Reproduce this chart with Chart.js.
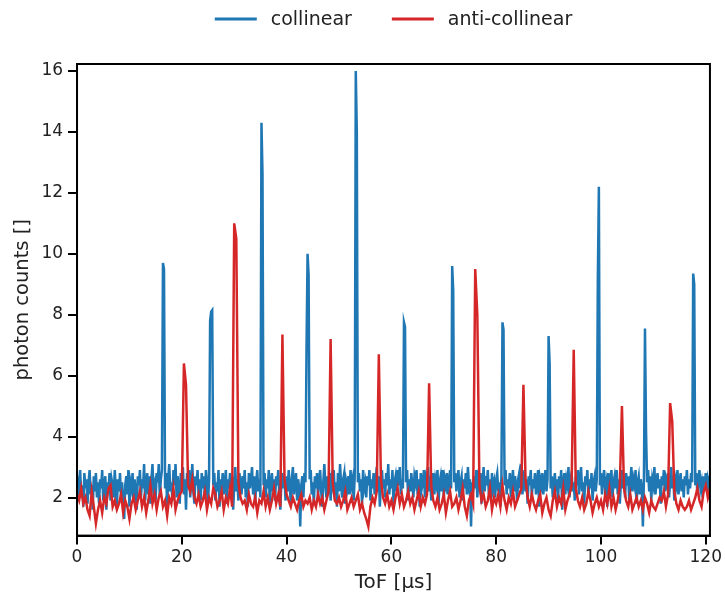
<!DOCTYPE html>
<html>
<head>
<meta charset="utf-8">
<script src="https://cdn.jsdelivr.net/npm/chart.js@4.4.1/dist/chart.umd.min.js"></script>
<style>
html,body{margin:0;padding:0;background:#fff;}
#wrap{width:725px;height:597px;}
</style>
</head>
<body>
<div id="wrap"><canvas id="c" width="725" height="597"></canvas></div>
<script>
// sampling steps of the ToF grids (µs)
const collinearStep = 0.2;
const antiStep = 0.4;
const xTicks = [0, 20, 40, 60, 80, 100, 120];
const yTicks = [2, 4, 6, 8, 10, 12, 14, 16];
const seriesNames = ['collinear', 'anti-collinear'];

const collinear = [
2.7,1.9,2.5,2.9,2.0,2.4,1.7,2.8,2.3,2.6,1.8,2.5,2.9,2.1,2.4,1.6,2.7,2.2,2.8,2.0,
2.5,1.8,2.6,2.3,2.9,1.9,2.4,2.7,1.6,2.5,2.2,2.8,1.9,2.6,2.4,2.0,2.9,2.3,1.7,2.6,
2.2,2.8,2.0,2.5,1.8,1.3,2.4,2.7,2.1,2.9,1.7,2.5,2.3,2.8,1.9,2.6,2.2,1.6,2.7,2.4,
2.9,2.0,2.6,2.3,3.1,1.9,2.5,2.8,2.1,2.7,1.8,2.6,3.1,2.2,2.4,1.9,2.8,2.5,3.1,2.0,
2.6,2.9,9.7,9.5,2.3,2.8,1.7,2.6,3.1,2.2,2.5,1.9,2.9,2.4,3.1,2.0,2.7,2.3,1.8,2.8,
2.4,3.0,2.1,2.6,1.6,2.8,2.3,2.9,2.0,2.5,3.1,2.2,1.8,2.7,2.4,2.9,2.1,2.6,1.9,2.8,
2.3,2.7,2.0,2.9,2.5,1.8,2.6,7.8,8.1,8.15,2.4,2.8,1.9,2.5,2.2,2.9,1.7,2.6,2.3,2.8,
2.1,2.5,2.9,1.8,2.6,2.3,2.8,2.0,2.7,1.6,2.4,3.0,2.2,2.6,1.9,2.8,2.4,2.1,2.7,2.3,
2.9,2.0,2.5,1.7,2.8,2.3,2.6,3.0,2.1,2.7,1.8,2.5,2.9,2.2,2.6,2.0,14.3,12.6,2.4,2.8,
2.0,2.6,2.3,2.9,1.7,2.5,2.8,2.2,2.6,1.9,2.7,2.4,2.9,2.1,1.6,2.5,2.8,2.3,2.6,1.9,
2.7,2.2,2.9,2.4,1.8,2.6,3.0,2.1,2.5,2.8,1.9,2.6,2.3,1.05,2.4,2.7,2.0,2.8,2.5,6.9,
10.0,9.3,2.6,2.9,2.1,2.5,1.8,2.7,2.3,2.8,2.0,2.6,2.9,2.2,1.7,2.5,3.1,2.4,2.0,2.7,
2.3,2.8,1.9,2.6,2.4,2.9,2.1,2.5,1.7,2.8,2.2,3.1,2.4,2.0,2.6,2.8,1.8,2.5,2.3,2.7,
2.1,2.9,2.4,2.6,1.9,2.7,16.0,14.0,2.5,2.8,2.2,2.6,1.8,2.9,2.3,2.5,2.0,2.7,2.4,2.9,
1.9,2.6,2.3,2.8,2.1,2.5,3.0,2.2,2.7,1.7,2.5,2.9,2.3,2.6,2.0,2.8,2.4,3.1,2.1,2.6,
2.3,2.9,1.8,2.5,2.7,2.2,2.9,2.4,3.0,2.1,2.6,2.3,7.75,7.6,2.5,2.9,1.9,2.6,2.2,2.8,
2.4,2.0,2.7,2.5,2.9,2.1,2.6,1.7,2.8,2.3,2.5,2.9,2.0,2.6,2.4,3.0,2.2,2.7,1.9,2.5,
2.8,2.1,2.6,2.4,2.9,1.8,2.5,2.7,2.2,2.9,2.0,2.6,2.4,2.8,2.1,2.5,2.9,2.3,9.6,8.8,
2.5,2.8,2.2,2.6,2.9,2.0,2.5,2.7,1.9,2.6,2.3,2.8,2.1,3.0,2.4,2.6,1.05,2.5,2.2,2.7,
2.3,2.9,2.0,2.6,2.4,2.8,1.8,2.5,3.0,2.2,2.7,2.4,2.9,2.1,2.6,1.9,2.8,2.3,2.5,2.0,
2.6,2.8,2.2,2.5,1.7,2.7,7.75,7.5,2.4,2.9,2.1,2.6,2.3,2.8,2.0,2.5,2.9,2.2,2.7,2.4,
1.9,2.6,2.8,2.3,3.1,2.1,2.5,2.9,2.2,2.6,1.8,2.7,2.4,2.9,2.0,2.6,2.3,2.8,2.1,2.5,
2.9,1.7,2.6,2.4,2.8,2.1,2.5,2.9,2.2,2.6,7.3,6.4,2.3,2.7,2.0,2.5,2.8,2.2,2.6,1.9,
2.7,2.3,2.9,1.6,2.5,2.8,2.1,2.6,2.4,3.0,2.0,2.6,2.8,2.2,2.5,1.9,2.7,2.4,2.9,2.1,
2.6,3.0,2.2,2.5,1.8,2.7,2.4,2.9,2.0,2.6,2.3,2.8,1.9,2.5,2.7,2.2,2.6,9.2,12.2,2.4,
2.8,2.1,2.6,2.9,2.3,2.5,1.7,2.8,2.2,2.6,2.9,2.0,2.5,2.7,2.3,2.9,2.1,2.6,1.8,2.5,
2.9,2.3,2.6,2.0,2.8,2.4,2.7,1.9,2.5,3.0,2.2,2.6,2.4,2.9,1.8,2.5,2.7,2.1,2.6,2.3,
1.05,2.6,7.55,4.2,2.5,2.9,2.2,2.7,1.9,2.6,2.4,3.0,2.1,2.5,2.8,2.3,2.6,1.8,2.7,2.4,
2.9,2.2,2.6,2.4,2.8,2.0,2.5,3.0,2.3,2.7,1.9,2.6,2.4,2.9,2.1,2.5,2.8,2.2,2.6,2.0,
2.7,2.4,2.9,2.1,2.6,2.3,2.8,2.5,9.35,9.0,2.4,2.8,2.1,2.6,2.9,2.3,2.5,2.0,2.7,2.4,
2.8,2.2,2.6,2.4,2.7
];

const antiCollinear = [
2.1,1.9,2.3,1.8,2.0,1.6,1.4,2.2,1.7,1.15,
1.6,1.9,1.5,2.0,1.8,2.3,2.4,1.7,1.9,1.6,
1.8,2.1,1.5,1.9,1.7,1.3,1.8,2.0,1.6,1.9,
2.2,1.7,2.0,1.5,1.9,2.4,1.8,2.1,1.6,2.0,
2.2,1.7,1.9,1.4,2.0,1.8,2.3,1.6,1.9,2.1,
2.2,6.4,5.7,2.4,2.2,2.6,2.0,1.8,2.1,1.7,
1.9,2.2,1.6,2.0,1.8,2.3,2.1,1.7,1.9,2.2,
1.6,2.0,1.8,2.3,1.7,11.0,10.5,2.5,2.0,1.8,
1.9,1.6,2.1,1.8,1.7,2.0,1.5,1.9,1.8,2.2,
1.7,2.0,1.6,1.9,2.3,1.8,2.1,1.7,7.35,2.6,
2.1,1.9,1.7,2.0,1.8,1.6,1.9,2.1,1.7,1.9,
1.8,2.0,1.6,1.9,1.7,2.1,1.8,2.0,1.6,1.9,
2.2,7.2,2.5,1.9,1.8,2.0,1.7,1.9,2.2,1.6,
1.8,2.0,1.7,1.9,2.1,1.6,1.8,1.5,1.3,1.05,
1.7,2.0,1.8,2.2,6.7,2.6,2.0,1.8,2.1,1.7,
1.9,1.6,2.0,2.3,1.8,2.1,1.7,1.9,2.2,1.8,
2.0,1.6,1.9,2.2,1.7,2.0,1.8,2.1,5.75,2.4,
1.9,1.7,2.0,1.6,1.8,2.1,1.5,1.9,2.2,1.7,
1.8,2.0,1.6,1.9,2.3,1.7,1.4,1.9,2.1,1.8,
9.5,8.0,2.4,1.9,2.1,1.7,1.9,2.3,1.6,2.0,
1.8,2.1,1.7,2.4,1.9,1.6,2.0,1.8,2.2,1.7,
1.9,2.1,2.3,5.7,2.6,2.0,1.7,2.1,1.8,1.6,
1.9,2.1,1.5,1.8,2.0,1.6,1.4,1.9,2.2,1.7,
2.0,1.8,2.3,1.6,1.9,2.1,2.4,6.85,2.3,1.9,
1.7,2.0,1.6,1.8,2.2,1.9,1.5,1.8,2.0,1.7,
1.9,1.6,2.1,1.8,2.3,1.7,2.0,1.6,1.9,2.4,
5.0,2.3,1.9,1.7,2.1,1.6,1.8,2.0,1.7,1.9,
1.6,2.0,1.8,1.5,1.9,1.7,1.6,1.8,2.0,1.9,
2.2,1.7,2.1,5.1,4.5,2.2,1.8,1.6,1.9,1.7,
1.6,1.7,1.9,1.6,1.8,2.0,2.3,1.9,1.7,2.2,
2.4,2.0,2.3
];

const toPoints = (arr, step) => arr.map((v, i) => ({x: +(i * step).toFixed(2), y: v}));

const font = 'DejaVu Sans';

const frame = {
  id: 'frame',
  afterDatasetsDraw(chart) {
    const {ctx, chartArea: a} = chart;
    ctx.save();
    ctx.strokeStyle = '#000';
    ctx.lineWidth = 2;
    ctx.strokeRect(a.left, a.top, a.right - a.left, a.bottom - a.top);
    ctx.restore();
  }
};

// legend drawn centred over the axes, matplotlib style
const topLegend = {
  id: 'topLegend',
  afterDraw(chart) {
    const {ctx, chartArea: a} = chart;
    const ds = chart.data.datasets;
    ctx.save();
    ctx.font = '19px "' + font + '"';
    const sw = 42, gapText = 14, gapItem = 40;
    const widths = ds.map(d => sw + gapText + ctx.measureText(d.label).width);
    const total = widths.reduce((s, w) => s + w, 0) + gapItem * (ds.length - 1);
    let x = (a.left + a.right) / 2 - total / 2;
    const y = 19;
    ds.forEach((d, i) => {
      ctx.strokeStyle = d.borderColor;
      ctx.lineWidth = 3;
      ctx.beginPath();
      ctx.moveTo(x, y);
      ctx.lineTo(x + sw, y);
      ctx.stroke();
      ctx.fillStyle = '#222';
      ctx.textBaseline = 'middle';
      ctx.textAlign = 'left';
      ctx.fillText(d.label, x + sw + gapText, y + 1);
      x += widths[i] + gapItem;
    });
    ctx.restore();
  }
};

new Chart(document.getElementById('c'), {
  type: 'line',
  data: {
    datasets: [
      {label: seriesNames[0], data: toPoints(collinear, collinearStep), borderColor: '#1f77b4', backgroundColor: '#1f77b4',
       borderWidth: 2.5, pointRadius: 0, tension: 0, order: 1},
      {label: seriesNames[1], data: toPoints(antiCollinear, antiStep), borderColor: '#d62728', backgroundColor: '#d62728',
       borderWidth: 2.5, pointRadius: 0, tension: 0, order: 0}
    ]
  },
  options: {
    responsive: false,
    animation: false,
    layout: {padding: {left: 11, right: 3, top: 64, bottom: 2}},
    plugins: {
      tooltip: {enabled: false},
      legend: {display: false}
    },
    scales: {
      x: {
        type: 'linear', min: 0, max: 120.8,
        afterBuildTicks: s => { s.ticks = xTicks.map(v => ({value: v})); },
        ticks: {font: {family: font, size: 17}, color: '#222', maxRotation: 0, padding: 3},
        grid: {drawOnChartArea: false, drawTicks: true, tickLength: 9, color: '#000', lineWidth: 2},
        border: {display: true, color: '#000', width: 2},
        title: {display: true, text: 'ToF [μs]', font: {family: font, size: 20}, color: '#222', padding: {top: 0, bottom: 0}}
      },
      y: {
        type: 'linear', min: 0.75, max: 16.23,
        afterBuildTicks: s => { s.ticks = yTicks.map(v => ({value: v})); },
        ticks: {font: {family: font, size: 17}, color: '#222', padding: 5},
        grid: {drawOnChartArea: false, drawTicks: true, tickLength: 9, color: '#000', lineWidth: 2},
        border: {display: true, color: '#000', width: 2},
        title: {display: true, text: 'photon counts []', font: {family: font, size: 19.5}, color: '#222', padding: {top: 0, bottom: 2}}
      }
    }
  },
  plugins: [frame, topLegend]
});
</script>
</body>
</html>
